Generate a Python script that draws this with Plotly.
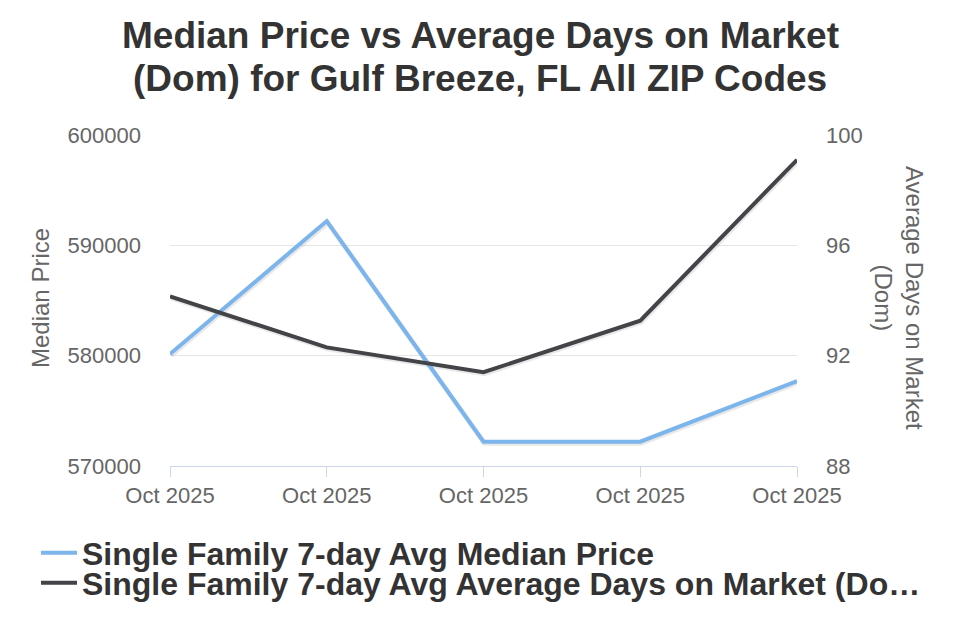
import plotly.graph_objects as go

x_idx = [0, 1, 2, 3, 4]
x_labels = ["Oct 2025", "Oct 2025", "Oct 2025", "Oct 2025", "Oct 2025"]
median_price = [580150, 592200, 572200, 572200, 577700]
avg_dom = [94.15, 92.3, 91.4, 93.27, 99.1]

series_names = ["Single Family 7-day Avg Median Price",
                "Single Family 7-day Avg Average Days on Market (Do…"]
title_lines = ["Median Price vs Average Days on Market",
               "(Dom) for Gulf Breeze, FL All ZIP Codes"]

FONT = "Liberation Sans, Arial, sans-serif"
GRAY = "#666666"
DARK = "#333333"

PLOT_TOP, PLOT_BOTTOM = 135, 466
PLOT_LEFT, PLOT_RIGHT = 170, 797
PH = PLOT_BOTTOM - PLOT_TOP
PW = PLOT_RIGHT - PLOT_LEFT


def py(px):
    return (PLOT_BOTTOM - px) / PH


def pxx(px):
    return (px - PLOT_LEFT) / PW


X_RANGE = [0, 4]
Y1_RANGE = [570000, 600000]
Y2_RANGE = [88, 100]
dx = (X_RANGE[1] - X_RANGE[0]) / PW * 1.0
dy1 = (Y1_RANGE[1] - Y1_RANGE[0]) / PH * 1.5
dy2 = (Y2_RANGE[1] - Y2_RANGE[0]) / PH * 1.5

fig = go.Figure()
# shadows on hidden base axes (drawn first, underneath)
fig.add_trace(go.Scatter(x=x_idx, y=median_price, mode="lines", showlegend=False, hoverinfo="skip",
                         line=dict(color="rgba(0,0,0,0.09)", width=5), xaxis="x", yaxis="y"))
fig.add_trace(go.Scatter(x=x_idx, y=avg_dom, mode="lines", showlegend=False, hoverinfo="skip",
                         line=dict(color="rgba(0,0,0,0.09)", width=5), xaxis="x", yaxis="y2"))
# main series on visible overlay axes
fig.add_trace(go.Scatter(x=x_idx, y=median_price, mode="lines", name=series_names[0],
                         line=dict(color="#7cb5ec", width=4), xaxis="x2", yaxis="y3", legend="legend"))
fig.add_trace(go.Scatter(x=x_idx, y=avg_dom, mode="lines", name=series_names[1],
                         line=dict(color="#434348", width=4), xaxis="x2", yaxis="y4", legend="legend2"))

legend_common = dict(xanchor="left", yanchor="middle",
                     font=dict(size=32, color=DARK, family=FONT, weight="bold"),
                     itemwidth=36, bgcolor="rgba(0,0,0,0)", borderwidth=0)

fig.update_layout(
    width=960, height=640,
    margin=dict(l=PLOT_LEFT, r=960 - PLOT_RIGHT, t=PLOT_TOP, b=640 - PLOT_BOTTOM),
    paper_bgcolor="white", plot_bgcolor="white",
    font=dict(family=FONT, color=GRAY),
    # hidden, slightly shifted axes for the shadows
    xaxis=dict(range=[X_RANGE[0] - dx, X_RANGE[1] - dx], visible=False),
    yaxis=dict(range=[Y1_RANGE[0] + dy1, Y1_RANGE[1] + dy1], visible=False),
    yaxis2=dict(range=[Y2_RANGE[0] + dy2, Y2_RANGE[1] + dy2], overlaying="y", visible=False),
    # visible axes
    xaxis2=dict(range=X_RANGE, tickvals=x_idx, ticktext=x_labels, overlaying="x", anchor="y3",
                showgrid=False, showline=True, linecolor="#ccd6eb", linewidth=1,
                ticks="outside", ticklen=10, tickcolor="#ccd6eb",
                tickfont=dict(size=22, color=GRAY), zeroline=False),
    yaxis3=dict(range=Y1_RANGE, dtick=10000, tickformat="d", overlaying="y", anchor="x2", side="left",
                showgrid=True, gridcolor="#e6e6e6", gridwidth=1, zeroline=False,
                tickfont=dict(size=22, color=GRAY), ticklabelstandoff=28),
    yaxis4=dict(range=Y2_RANGE, dtick=4, overlaying="y", anchor="x2", side="right",
                showgrid=False, zeroline=False,
                tickfont=dict(size=22, color=GRAY), ticklabelstandoff=28),
    legend=dict(x=pxx(36), y=py(553), **legend_common),
    legend2=dict(x=pxx(36), y=py(583), **legend_common),
    showlegend=True,
    annotations=[
        dict(text="<b>" + title_lines[0] + "</b>", xref="paper", yref="paper", x=pxx(480), y=py(36),
             xanchor="center", yanchor="middle", showarrow=False,
             font=dict(size=37, color=DARK, family=FONT)),
        dict(text="<b>" + title_lines[1] + "</b>", xref="paper", yref="paper", x=pxx(480), y=py(78),
             xanchor="center", yanchor="middle", showarrow=False,
             font=dict(size=37, color=DARK, family=FONT)),
        dict(text="Median Price", xref="paper", yref="paper", x=pxx(40), y=py(298),
             xanchor="center", yanchor="middle", textangle=-90, showarrow=False,
             font=dict(size=24, color=GRAY, family=FONT)),
        dict(text="Average Days on Market<br>(Dom)", xref="paper", yref="paper", x=pxx(899), y=py(298),
             xanchor="center", yanchor="middle", textangle=90, showarrow=False,
             font=dict(size=24, color=GRAY, family=FONT)),
    ],
)

fig.write_html("out.html")
